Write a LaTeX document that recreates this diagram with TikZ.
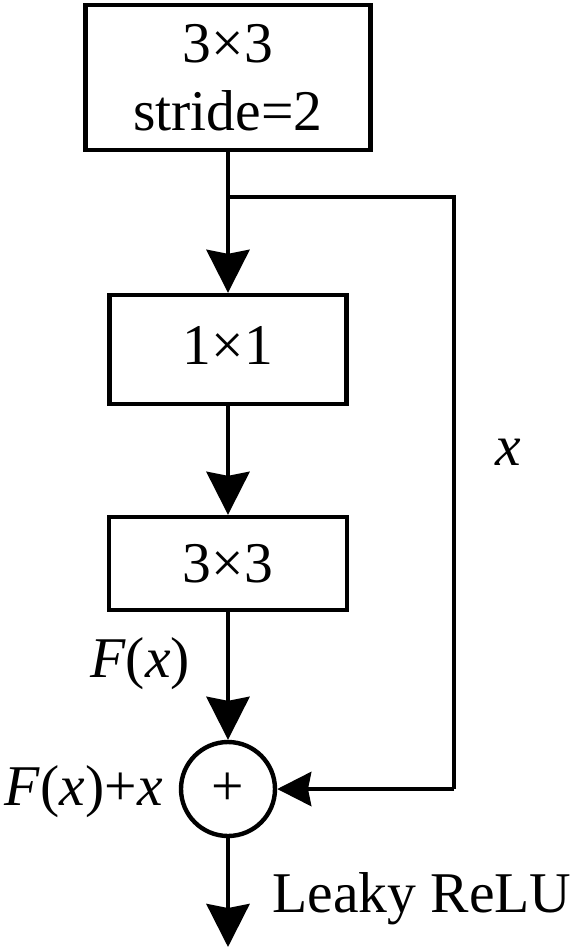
\documentclass[tikz,border=0pt]{standalone}
\usepackage{fontspec}
\setmainfont{Liberation Serif}
\usetikzlibrary{arrows.meta}
\begin{document}
\begin{tikzpicture}[x=0.5pt,y=-0.5pt,
  lw/.style={line width=2.2pt},
  blk/.style={draw,lw,rectangle,inner sep=0pt,align=center},
  arr/.style={lw,-{Stealth[length=21.5pt,width=21.5pt,inset=2pt]}},
  harr/.style={lw,-{Stealth[length=17pt,width=17pt,inset=1.6pt]}},
  lbl/.style={inner sep=0pt},
  every node/.style={font=\fontsize{28.8}{34}\selectfont}]
\useasboundingbox (0,0) rectangle (583,949);
\node[blk,minimum width=142.5pt,minimum height=72.5pt] (top) at (228,77.5) {3×3\\stride=2};
\node[blk,minimum width=118.5pt,minimum height=54.5pt] (b1) at (228,349.5) {\raisebox{4pt}{1×1}};
\node[blk,minimum width=119pt,minimum height=46.5pt] (b2) at (228,563.5) {3×3};
\node[draw,lw,circle,minimum size=47pt,inner sep=0pt] (sum) at (228,789) {+};
\coordinate (br) at (228,197);
\coordinate (c1) at (454,197);
\coordinate (c2) at (454,789);
\coordinate (out) at (228,947);
\draw[lw] (top.south) -- (br);
\draw[arr] (br) -- (b1.north);
\draw[lw] (br) -- (c1) -- (c2);
\draw[harr] (c2) -- (sum.east);
\draw[arr] (b1.south) -- (b2.north);
\draw[arr] (b2.south) -- (sum.north);
\draw[arr] (sum.south) -- (out);
\node[lbl] (fx) at (140,664) {\textit{F}(\textit{x})};
\node[lbl,anchor=east] (fxx) at (163,792) {\textit{F}(\textit{x})+\textit{x}};
\node[lbl] (xl) at (508,452) {\textit{x}};
\node[lbl,anchor=base west] (lr) at (272,912) {Leaky ReLU};
\end{tikzpicture}
\end{document}
